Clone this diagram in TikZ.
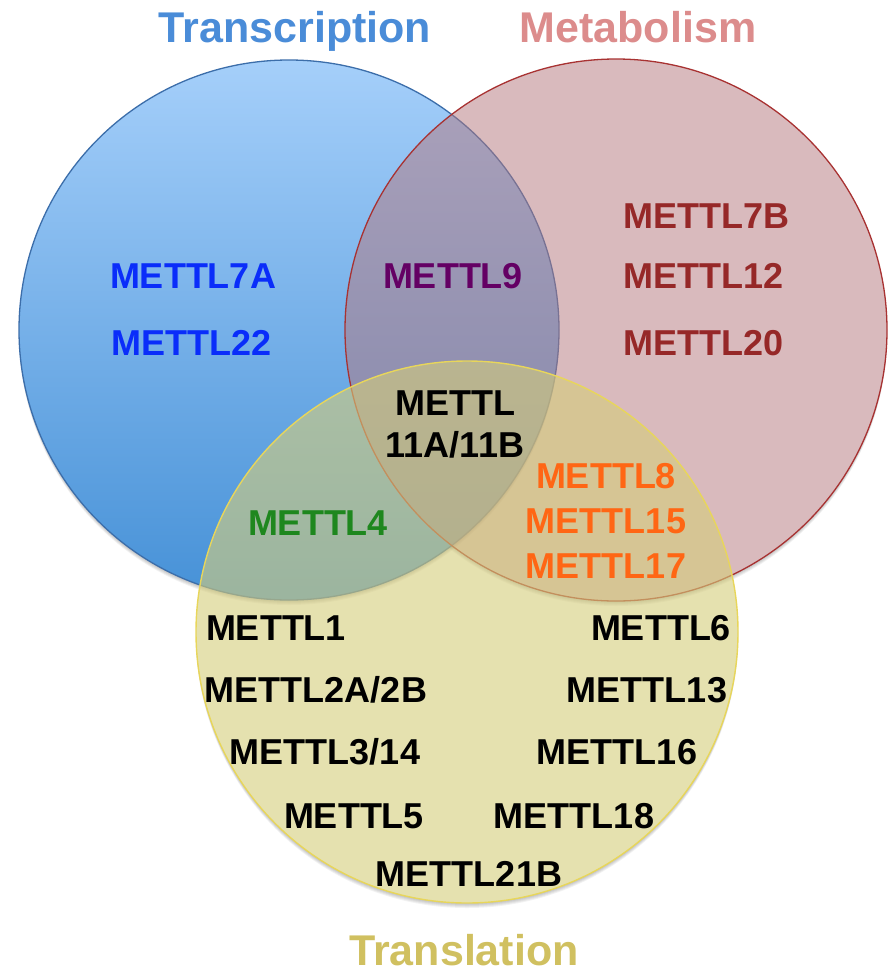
\documentclass[tikz,border=0pt]{standalone}
\usepackage{fontspec}
\setmainfont{Liberation Sans}
\usetikzlibrary{calc}
% title colours
\definecolor{tBlue}{RGB}{74,140,216}
\definecolor{tPink}{RGB}{220,140,140}
\definecolor{tYell}{RGB}{208,192,96}
% circle colours
\definecolor{bTop}{RGB}{165,207,250}
\definecolor{bBot}{RGB}{70,145,215}
\definecolor{bLine}{RGB}{60,110,170}
\definecolor{pFill}{RGB}{181,119,125}
\definecolor{pLine}{RGB}{168,50,50}
\definecolor{yFill}{RGB}{213,205,122}
\definecolor{yLine}{RGB}{232,214,90}
% label colours
\definecolor{gBlue}{RGB}{10,45,250}
\definecolor{gPurp}{RGB}{100,0,100}
\definecolor{gRed}{RGB}{150,40,40}
\definecolor{gGreen}{RGB}{30,135,30}
\definecolor{gOrange}{RGB}{255,102,20}
\tikzset{
  gene/.style={font=\fontsize{36}{44}\selectfont\bfseries, inner sep=0pt, anchor=base, align=center},
  title/.style={font=\fontsize{43}{43}\selectfont\bfseries, inner sep=0pt, anchor=base},
  softshadow/.style={fill=black, fill opacity=0.05},
}
\begin{document}
\begin{tikzpicture}[x=1pt, y=-1pt]
\useasboundingbox (0,0) rectangle (888,975);
\fill[white] (0,0) rectangle (888,975);
% circle centres
\coordinate (cB) at (289,330);
\coordinate (cP) at (616,330);
\coordinate (cY) at (467,632);
% soft drop shadows, kept outside each circle
\foreach \c/\r in {cB/270,cP/271,cY/271}{
  \begin{scope}[even odd rule]
    \clip (-10,-10) rectangle (900,990) (\c) circle[radius=\r pt];
    \foreach \d in {1,2,3,4,5}{
      \fill[softshadow] ($(\c)+(0,\d)$) circle[radius=\r pt];
    }
  \end{scope}
}
% the three sets
\path[top color=bTop, bottom color=bBot, draw=bLine, line width=1.3pt] (cB) circle[radius=270pt];
\path[fill=pFill, fill opacity=0.5, draw=pLine, line width=1.3pt] (cP) circle[radius=271pt];
\path[fill=yFill, fill opacity=0.6, draw=yLine, line width=1.4pt] (cY) circle[radius=271pt];
% set titles
\node[title, text=tBlue] (transcription) at (295,42) {Transcription};
\node[title, text=tPink] (metabolism) at (638,42) {Metabolism};
\node[title, text=tYell] (translation) at (464,965) {Translation};
% transcription only
\node[gene, text=gBlue] (m7a) at (193,288) {METTL7A};
\node[gene, text=gBlue] (m22) at (192,355) {METTL22};
% transcription and metabolism
\node[gene, text=gPurp] (m9) at (453,288) {METTL9};
% metabolism only
\node[gene, text=gRed, anchor=base west] (m7b) at (623,228) {METTL7B};
\node[gene, text=gRed, anchor=base west] (m12) at (623,288) {METTL12};
\node[gene, text=gRed, anchor=base west] (m20) at (623,355) {METTL20};
% all three (anchor sits on the last line)
\node[gene, font=\fontsize{36}{42}\selectfont\bfseries] (m11) at (455,457) {METTL\\11A/11B};
% transcription and translation
\node[gene, text=gGreen] (m4) at (318,535) {METTL4};
% metabolism and translation (anchor sits on the last line)
\node[gene, text=gOrange, font=\fontsize{36}{45}\selectfont\bfseries] (m8) at (606,578) {METTL8\\METTL15\\METTL17};
% translation only
\node[gene] (m1) at (276,640) {METTL1};
\node[gene] (m2) at (316,702) {METTL2A/2B};
\node[gene] (m3) at (325,764) {METTL3/14};
\node[gene] (m5) at (354,828) {METTL5};
\node[gene] (m21) at (469,886) {METTL21B};
\node[gene] (m6) at (661,640) {METTL6};
\node[gene] (m13) at (647,702) {METTL13};
\node[gene] (m16) at (617,764) {METTL16};
\node[gene] (m18) at (574,828) {METTL18};
\end{tikzpicture}
\end{document}
